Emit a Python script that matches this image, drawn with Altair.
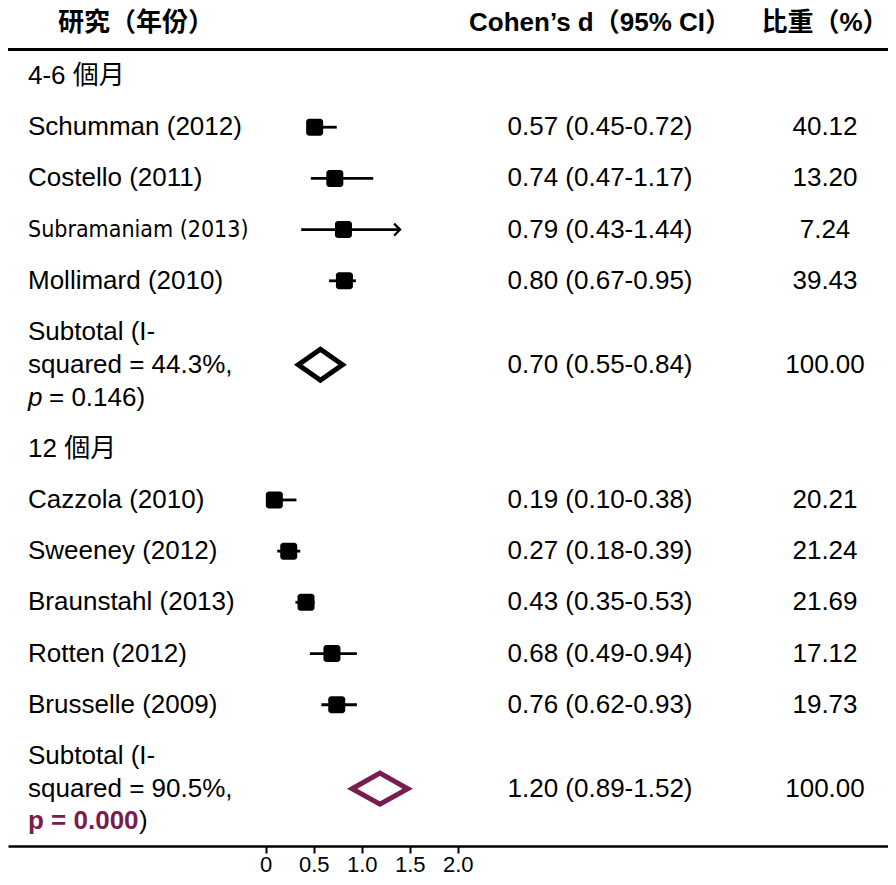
import altair as alt
import pandas as pd

# ---------------- data ----------------
groups = ["4-6 個月", "12 個月"]

studies1 = ["Schumman (2012)", "Costello (2011)", "Subramaniam (2013)", "Mollimard (2010)"]
ci_text1 = ["0.57 (0.45-0.72)", "0.74 (0.47-1.17)", "0.79 (0.43-1.44)", "0.80 (0.67-0.95)"]
weights1 = ["40.12", "13.20", "7.24", "39.43"]
est1 = [0.51, 0.72, 0.81, 0.82]
lo1 = [0.45, 0.47, 0.37, 0.66]
hi1 = [0.74, 1.12, 1.40, 0.94]
arrow1 = [False, False, True, False]

studies2 = ["Cazzola (2010)", "Sweeney (2012)", "Braunstahl (2013)", "Rotten (2012)", "Brusselle (2009)"]
ci_text2 = ["0.19 (0.10-0.38)", "0.27 (0.18-0.39)", "0.43 (0.35-0.53)", "0.68 (0.49-0.94)", "0.76 (0.62-0.93)"]
weights2 = ["20.21", "21.24", "21.69", "17.12", "19.73"]
est2 = [0.09, 0.24, 0.42, 0.69, 0.74]
lo2 = [0.10, 0.12, 0.31, 0.46, 0.58]
hi2 = [0.32, 0.36, 0.51, 0.95, 0.95]
arrow2 = [False, False, False, False, False]

sub_lines1 = ["Subtotal (I-", "squared = 44.3%,"]
sub_p1 = "= 0.146)"
sub_ci1 = "0.70 (0.55-0.84)"
sub_w1 = "100.00"
sub_diamond1 = (0.34, 0.57, 0.80)

sub_lines2 = ["Subtotal (I-", "squared = 90.5%,"]
sub_p2 = "p = 0.000"
sub_ci2 = "1.20 (0.89-1.52)"
sub_w2 = "100.00"
sub_diamond2 = (0.90, 1.19, 1.48)

headers = ["研究（年份）", "Cohen’s d（95% CI）", "比重（%）"]
ticks = [0, 0.5, 1.0, 1.5, 2.0]

PURPLE = "#7a1c4f"
FONT = "Liberation Sans, Arial, Noto Sans CJK TC, sans-serif"
NARROW = "DejaVu Sans Condensed, Liberation Sans Narrow, sans-serif"

# ---------------- row layout ----------------
S = 0.64  # line spacing within the subtotal labels (row units)
g1_row = 0
rows1 = [1 + i for i in range(len(studies1))]
sub1_row = 1 + len(studies1)
g2_row = sub1_row + 1 + 2 * S
rows2 = [g2_row + 1 + i for i in range(len(studies2))]
sub2_row = rows2[-1] + 1

study_df = pd.DataFrame({
    "label": studies1 + studies2,
    "ci": ci_text1 + ci_text2,
    "w": weights1 + weights2,
    "est": est1 + est2,
    "lo": lo1 + lo2,
    "hi": hi1 + hi2,
    "arrow": arrow1 + arrow2,
    "row": rows1 + rows2,
})
study_df["narrow"] = study_df["label"].str.startswith("Subramaniam")

plain_text = pd.DataFrame({
    "txt": [groups[0], sub_lines1[0], sub_lines1[1], groups[1], sub_lines2[0], sub_lines2[1]],
    "row": [g1_row, sub1_row, sub1_row + S, g2_row, sub2_row, sub2_row + S],
})

sub_df = pd.DataFrame({
    "ci": [sub_ci1, sub_ci2],
    "w": [sub_w1, sub_w2],
    "row": [sub1_row + S, sub2_row + S],
})

H = 0.303
pts = []
for k, (d, r, col) in enumerate([(sub_diamond1, sub1_row + S, "black"),
                                  (sub_diamond2, sub2_row + S, PURPLE)]):
    lo, est, hi = d
    seq = [(lo, r), (est, r - H), (hi, r), (est, r + H), (lo, r), (est, r - H)]
    for j, (xx, yy) in enumerate(seq):
        pts.append({"g": k, "o": j, "x": xx, "row": yy, "col": col})
dia_df = pd.DataFrame(pts)

# ---------------- scales ----------------
W, HT = 880, 838
P = 51.2
yscale = alt.Scale(domain=[-(76 - 8) / P, (846 - 76) / P], reverse=True, nice=False, zero=False)
xscale = alt.Scale(domain=[-257.7 / 96, (W - 257.7) / 96], nice=False, zero=False)
xaxis = alt.Axis(values=ticks, title=None, grid=False,
                 labelExpr="datum.value == 0 ? '0' : format(datum.value, '.1f')",
                 labelFont=FONT, labelFontSize=22, labelColor="black", labelBaseline="top",
                 labelPadding=1, tickColor="black", tickWidth=2, tickSize=7,
                 domainColor="black", domainWidth=2.5, labelFlush=False, labelOverlap=False)
Y = alt.Y("row:Q", scale=yscale, axis=None)

base_s = alt.Chart(study_df)

ci_rule = base_s.mark_rule(color="black", strokeWidth=2.8).encode(
    x=alt.X("lo:Q", scale=xscale, axis=xaxis), x2="hi:Q", y=Y)

squares = base_s.mark_rect(color="black", width=17, height=17, cornerRadius=3).encode(
    x=alt.X("est:Q", scale=xscale, axis=xaxis), y=Y)

arrows = base_s.transform_filter("datum.arrow").mark_point(
    shape="M-1,-1L0,0L-1,1", filled=False, size=144, strokeWidth=2.2,
    color="black", opacity=1).encode(
    x=alt.X("hi:Q", scale=xscale, axis=xaxis), y=Y)

diamonds = alt.Chart(dia_df).mark_line(strokeWidth=5, strokeJoin="miter", strokeCap="butt").encode(
    x=alt.X("x:Q", scale=xscale, axis=xaxis), y=Y,
    detail="g:N", order="o:Q", color=alt.Color("col:N", scale=None))

txt_kw = dict(fontSize=26, baseline="middle", color="black")

labels = base_s.transform_filter("!datum.narrow").mark_text(align="left", font=FONT, **txt_kw).encode(
    x=alt.value(20), y=Y, text="label:N")
labels_n = base_s.transform_filter("datum.narrow").mark_text(
    align="left", font=NARROW, fontSize=23, baseline="middle", color="black").encode(
    x=alt.value(20), y=Y, text="label:N")
ci_txt = base_s.mark_text(align="center", font=FONT, **txt_kw).encode(
    x=alt.value(592), y=Y, text="ci:N")
w_txt = base_s.mark_text(align="center", font=FONT, **txt_kw).encode(
    x=alt.value(817), y=Y, text="w:N")

plain = alt.Chart(plain_text).mark_text(align="left", font=FONT, **txt_kw).encode(
    x=alt.value(20), y=Y, text="txt:N")
sub_ci = alt.Chart(sub_df).mark_text(align="center", font=FONT, **txt_kw).encode(
    x=alt.value(592), y=Y, text="ci:N")
sub_w = alt.Chart(sub_df).mark_text(align="center", font=FONT, **txt_kw).encode(
    x=alt.value(817), y=Y, text="w:N")

p1_df = pd.DataFrame({"row": [sub1_row + 2 * S], "a": ["p"], "b": [sub_p1]})
p1a = alt.Chart(p1_df).mark_text(align="left", font=FONT, fontStyle="italic", **txt_kw).encode(
    x=alt.value(20), y=Y, text="a:N")
p1b = alt.Chart(p1_df).mark_text(align="left", font=FONT, **txt_kw).encode(
    x=alt.value(41), y=Y, text="b:N")

p2_df = pd.DataFrame({"row": [sub2_row + 2 * S], "a": [sub_p2], "b": [")"]})
p2a = alt.Chart(p2_df).mark_text(align="left", font=FONT, fontWeight="bold", fontSize=26,
                                  baseline="middle", color=PURPLE).encode(
    x=alt.value(20), y=Y, text="a:N")
p2b = alt.Chart(p2_df).mark_text(align="left", font=FONT, **txt_kw).encode(
    x=alt.value(131), y=Y, text="b:N")

hdr_df = pd.DataFrame({"t": headers, "k": [0, 1, 2]})
hdr_kw = dict(fontSize=26, fontWeight="bold", font=FONT, baseline="middle", color="black")
h1 = alt.Chart(hdr_df).transform_filter("datum.k == 0").mark_text(align="left", **hdr_kw).encode(
    x=alt.value(50), y=alt.value(15), text="t:N")
h2 = alt.Chart(hdr_df).transform_filter("datum.k == 1").mark_text(align="center", **hdr_kw).encode(
    x=alt.value(592), y=alt.value(15), text="t:N")
h3 = alt.Chart(hdr_df).transform_filter("datum.k == 2").mark_text(align="center", **hdr_kw).encode(
    x=alt.value(817), y=alt.value(15), text="t:N")

top_rule = alt.Chart(hdr_df).transform_filter("datum.k == 0").mark_rule(
    color="black", strokeWidth=3).encode(x=alt.value(0), x2=alt.value(W), y=alt.value(41.5))

chart = alt.layer(
    ci_rule, arrows, squares, diamonds,
    labels, labels_n, ci_txt, w_txt, plain, sub_ci, sub_w,
    p1a, p1b, p2a, p2b, h1, h2, h3, top_rule,
).properties(
    width=W, height=HT,
    autosize=alt.AutoSizeParams(type="none"),
    padding={"left": 0, "right": 0, "top": 0, "bottom": 31},
).configure_view(stroke=None)

chart.save("out.html", embed_options={"renderer": "svg", "actions": False})
